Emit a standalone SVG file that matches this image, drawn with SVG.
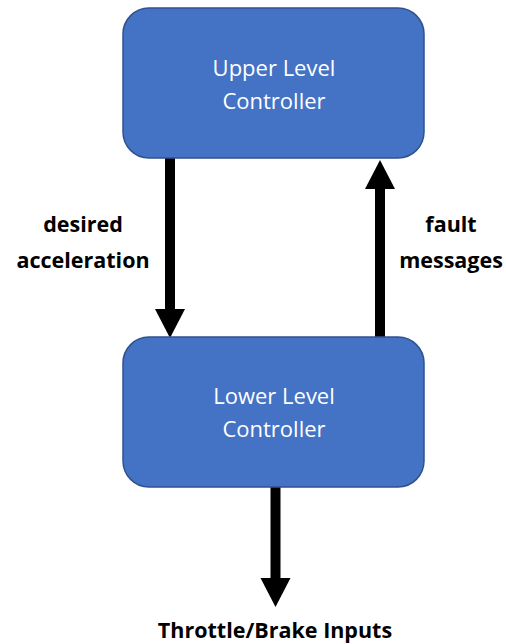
<svg xmlns="http://www.w3.org/2000/svg" width="506" height="644" viewBox="0 0 506 644">
  <style>
    .box { fill: #4472C4; stroke: #2F528F; stroke-width: 1.5; }
    .boxtext { font-family: "Open Sans", "Liberation Sans", sans-serif; font-size: 22px; fill: #ffffff; text-anchor: middle; }
    .label { font-family: "Open Sans", "Liberation Sans", sans-serif; font-size: 21.5px; font-weight: bold; fill: #000000; text-anchor: middle; }
    .shaft { stroke: #000000; stroke-width: 10; fill: none; }
    .head { fill: #000000; }
  </style>
  <rect width="506" height="644" fill="#ffffff"/>

  <g id="connectors">
    <!-- desired acceleration: upper to lower -->
    <g id="edge-down">
      <line class="shaft" x1="170" y1="158" x2="170" y2="311"/>
      <polygon class="head" points="155,309 185,309 170,338"/>
    </g>
    <!-- fault messages: lower to upper -->
    <g id="edge-up">
      <line class="shaft" x1="380" y1="337" x2="380" y2="187"/>
      <polygon class="head" points="365,189 395,189 380,160"/>
    </g>
    <!-- output to actuators -->
    <g id="edge-out">
      <line class="shaft" x1="275.5" y1="487" x2="275.5" y2="580"/>
      <polygon class="head" points="260.5,578 290.5,578 275.5,607"/>
    </g>
  </g>

  <g id="upper-controller">
    <rect class="box" x="123" y="8" width="301" height="150" rx="26" ry="26"/>
    <text class="boxtext" x="274" y="76">Upper Level</text>
    <text class="boxtext" x="274" y="109">Controller</text>
  </g>

  <g id="lower-controller">
    <rect class="box" x="123" y="337" width="301" height="150" rx="26" ry="26"/>
    <text class="boxtext" x="274" y="404">Lower Level</text>
    <text class="boxtext" x="274" y="437">Controller</text>
  </g>

  <g id="labels">
    <text class="label" x="83" y="232">desired</text>
    <text class="label" x="83" y="268">acceleration</text>
    <text class="label" x="451" y="232">fault</text>
    <text class="label" x="451" y="268">messages</text>
    <text class="label" x="275" y="638">Throttle/Brake Inputs</text>
  </g>
</svg>
